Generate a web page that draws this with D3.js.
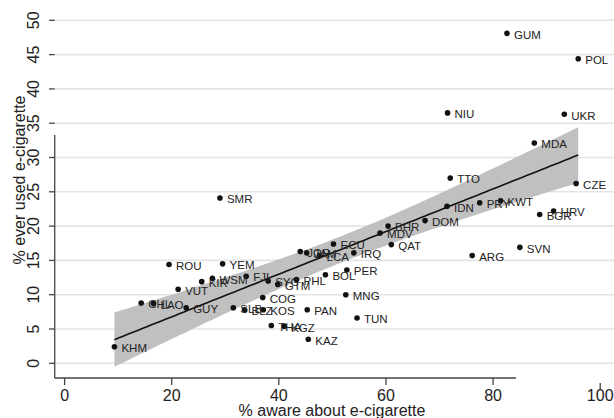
<!DOCTYPE html>
<html><head><meta charset="utf-8">
<script src="https://cdn.jsdelivr.net/npm/d3@7"></script>
<style>
html,body{margin:0;padding:0;background:#fff;}
svg{display:block;font-family:"Liberation Sans",Arial,sans-serif;}
</style></head>
<body><svg id="chart" width="614" height="418"></svg>
<script>
const countries = ["KHM","CHL","LAO","GUY","VUT","ROU","KIR","WSM","YEM","FJI","SMR","SLB","BLZ","KOS","COG","SYC","GTM","PHL","THA","KGZ","KAZ","PAN","JOR","JAM","LCA","ECU","IRQ","BOL","PER","MNG","TUN","QAT","MDV","BHR","DOM","IDN","TTO","PRY","KWT","BGR","HRV","CZE","SVN","ARG","MDA","UKR","NIU","GUM","POL"];
const aware = [9.3,14.3,16.6,22.7,21.2,19.5,25.6,27.6,29.5,33.9,29.0,31.5,33.6,37.1,37.0,38.0,39.8,43.3,38.6,41.0,45.5,45.3,44.0,45.2,47.6,50.2,54.0,48.7,52.7,52.5,54.6,61.0,58.9,60.4,67.3,71.4,72.0,77.5,81.4,88.7,91.3,95.5,85.0,76.1,87.7,93.3,71.5,82.6,95.9];
const everUsed = [2.4,8.8,8.7,8.1,10.8,14.4,11.9,12.4,14.5,12.7,24.1,8.1,7.8,7.8,9.6,12.0,11.5,12.2,5.5,5.4,3.5,7.8,16.3,16.1,15.7,17.4,16.1,12.9,13.6,10.0,6.6,17.3,19.0,20.0,20.8,22.9,27.0,23.4,23.7,21.7,22.2,26.2,16.9,15.7,32.1,36.3,36.5,48.1,44.4];
const xTicks = [0,20,40,60,80,100];
const yTicks = [0,5,10,15,20,25,30,35,40,45,50];
const xTitle = "% aware about e-cigarette";
const yTitle = "% ever used e-cigarette";
const tCrit = 2.012; // 95% t, df = n-2

const svg = d3.select("#chart");
const x = d3.scaleLinear().domain([0,100]).range([64.6,600.2]);
const y = d3.scaleLinear().domain([0,50]).range([363.3,20.3]);
const axisX0 = 54.7, axisY0 = 378;

// gridlines
svg.append("g").selectAll("line").data(yTicks).join("line")
  .attr("x1",axisX0).attr("x2",614).attr("y1",d=>y(d)).attr("y2",d=>y(d))
  .attr("stroke","#e4e4e4").attr("stroke-width",1.6);

// regression
const n = aware.length;
const xm = d3.mean(aware), ym = d3.mean(everUsed);
let sxx=0, sxy=0;
for(let i=0;i<n;i++){sxx+=(aware[i]-xm)**2; sxy+=(aware[i]-xm)*(everUsed[i]-ym);}
const b = sxy/sxx, a = ym-b*xm;
let sse=0; for(let i=0;i<n;i++){sse+=(everUsed[i]-a-b*aware[i])**2;}
const s = Math.sqrt(sse/(n-2));
const [xmin,xmax] = d3.extent(aware);
const grid = d3.range(0,101).map(i=>xmin+(xmax-xmin)*i/100);
const band = grid.map(v=>{const f=a+b*v; const h=tCrit*s*Math.sqrt(1/n+(v-xm)**2/sxx); return {v,lo:f-h,hi:f+h,f};});
svg.append("path").datum(band)
  .attr("d",d3.area().x(d=>x(d.v)).y0(d=>y(d.lo)).y1(d=>y(d.hi)))
  .attr("fill","#c0c0c0");
svg.append("path").datum(band)
  .attr("d",d3.line().x(d=>x(d.v)).y(d=>y(d.f)))
  .attr("fill","none").attr("stroke","#111").attr("stroke-width",1.6);

// axes
const ax = svg.append("g").attr("stroke","#444").attr("stroke-width",1.3);
ax.append("line").attr("x1",axisX0).attr("x2",axisX0).attr("y1",135).attr("y2",axisY0);
ax.append("line").attr("x1",axisX0).attr("x2",516).attr("y1",axisY0).attr("y2",axisY0);
ax.selectAll(".yt").data(yTicks).join("line").attr("class","yt")
  .attr("x1",49).attr("x2",axisX0).attr("y1",d=>y(d)).attr("y2",d=>y(d));
ax.selectAll(".xt").data(xTicks).join("line").attr("class","xt")
  .attr("x1",d=>x(d)).attr("x2",d=>x(d))
  .attr("y1",d=>d===100?383:axisY0).attr("y2",d=>d===100?390:385);

svg.append("g").selectAll("text").data(xTicks).join("text")
  .attr("x",d=>x(d)).attr("y",401).attr("text-anchor","middle")
  .attr("font-size",16).attr("fill","#222").text(d=>d);
svg.append("g").selectAll("text").data(yTicks).join("text")
  .attr("transform",d=>`translate(39,${y(d)}) rotate(-90)`)
  .attr("text-anchor","middle").attr("font-size",16).attr("fill","#222").text(d=>d);
svg.append("text").attr("x",332).attr("y",416).attr("text-anchor","middle")
  .attr("font-size",16).attr("fill","#222").text(xTitle);
svg.append("text").attr("transform","translate(25,180) rotate(-90)")
  .attr("text-anchor","middle").attr("font-size",16).attr("fill","#222").text(yTitle);

// points and labels
const pts = countries.map((c,i)=>({c,x:aware[i],y:everUsed[i]}));
svg.append("g").selectAll("circle").data(pts).join("circle")
  .attr("cx",d=>x(d.x)).attr("cy",d=>y(d.y)).attr("r",2.8).attr("fill","#111");
svg.append("g").selectAll("text").data(pts).join("text")
  .attr("x",d=>x(d.x)+7).attr("y",d=>y(d.y)+5.3)
  .attr("font-size",11.5).attr("fill","#222").text(d=>d.c);
</script></body></html>
